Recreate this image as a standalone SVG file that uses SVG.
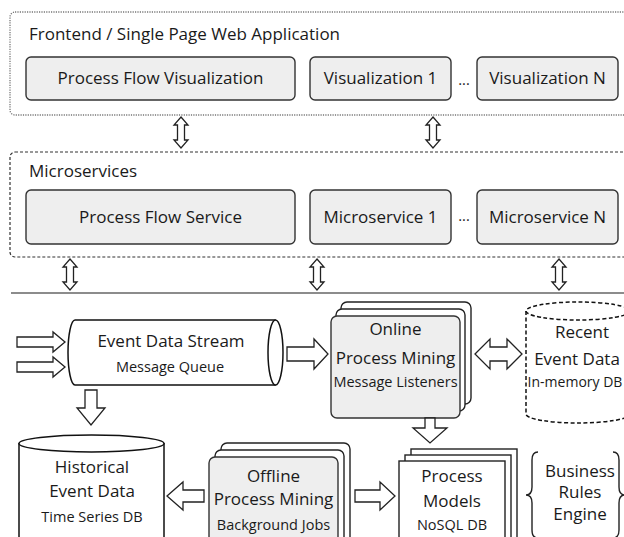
<svg xmlns="http://www.w3.org/2000/svg" width="624" height="537" viewBox="0 0 624 537">
<defs>
<style>
text{font-family:"Open Sans",Lato,"Liberation Sans",sans-serif;fill:#1a1a1a;}
.t{font-size:17px;}
.c{font-size:17px;text-anchor:middle;}
.s{font-size:14.5px;text-anchor:middle;}
.box{fill:#eeeeee;stroke:#333;stroke-width:1.4;}
.wbox{fill:#ffffff;stroke:#222;stroke-width:1.4;}
.arr{fill:#ffffff;stroke:#222;stroke-width:1.3;stroke-linejoin:miter;}
.frame1{fill:none;stroke:#777;stroke-width:1.3;stroke-dasharray:1.2 1.2;}
.frame2{fill:none;stroke:#333;stroke-width:1.2;stroke-dasharray:3 2;}
.cyl{fill:#ffffff;stroke:#111;stroke-width:1.5;}
.dcyl{fill:#ffffff;stroke:#111;stroke-width:1.5;stroke-dasharray:4 2.5;}
</style>
<polygon id="vdbl" points="0,0 7,8 3.5,8 3.5,23 7,23 0,31 -7,23 -3.5,23 -3.5,8 -7,8"/>
</defs>

<g id="frontend">
<rect class="frame1" x="10" y="12" width="630" height="103" rx="5"/>
<text class="t" x="29" y="40">Frontend / Single Page Web Application</text>
</g>
<g id="process-flow-visualization">
<rect class="box" x="26" y="57" width="269" height="43" rx="5"/>
<text class="c" x="160.5" y="84">Process Flow Visualization</text>
</g>
<g id="visualization-1">
<rect class="box" x="310" y="57" width="141" height="43" rx="5"/>
<text class="c" x="380.5" y="84">Visualization 1</text>
</g>
<text class="s" x="464" y="85">...</text>
<g id="visualization-n">
<rect class="box" x="477" y="57" width="141" height="43" rx="5"/>
<text class="c" x="547.5" y="84">Visualization N</text>
</g>

<g id="microservices">
<rect class="frame2" x="10" y="152" width="630" height="105" rx="5"/>
<text class="t" x="29" y="177">Microservices</text>
</g>
<g id="process-flow-service">
<rect class="box" x="26" y="190" width="269" height="54" rx="5"/>
<text class="c" x="160.5" y="223">Process Flow Service</text>
</g>
<g id="microservice-1">
<rect class="box" x="310" y="190" width="141" height="54" rx="5"/>
<text class="c" x="380.5" y="223">Microservice 1</text>
</g>
<text class="s" x="464" y="221">...</text>
<g id="microservice-n">
<rect class="box" x="477" y="190" width="141" height="54" rx="5"/>
<text class="c" x="547.5" y="223">Microservice N</text>
</g>

<line x1="11" y1="293" x2="624" y2="293" stroke="#666" stroke-width="1.5"/>

<g id="event-data-stream">
<path class="cyl" d="M75,320 L275,320 L275,385 L75,385 A7,32.5 0 0 1 75,320 Z"/>
<ellipse class="cyl" cx="275.5" cy="352.5" rx="7.5" ry="32.5"/>
<text class="c" x="171" y="347">Event Data Stream</text>
<text class="s" x="170" y="372">Message Queue</text>
</g>

<g id="online-process-mining">
<rect class="wbox" x="341" y="302" width="130" height="102" rx="6"/>
<rect class="wbox" x="336" y="309" width="129" height="102" rx="6"/>
<rect class="box" x="331" y="316" width="129" height="102" rx="6"/>
<text class="c" x="395.5" y="335">Online</text>
<text class="c" x="395.5" y="364">Process Mining</text>
<text class="s" x="395.5" y="387">Message Listeners</text>
</g>

<g id="recent-event-data">
<path class="dcyl" d="M526,311 L526,414 A52,9 0 0 0 630,414 L630,311"/>
<ellipse class="dcyl" cx="578" cy="311" rx="52" ry="9"/>
<text class="c" x="582" y="338">Recent</text>
<text class="c" x="577" y="365">Event Data</text>
<text class="s" x="575" y="387" style="font-size:14px">In-memory DB</text>
</g>

<g id="historical-event-data">
<path class="cyl" d="M19,443 L19,545 L164,545 L164,443"/>
<ellipse class="cyl" cx="91.5" cy="443.5" rx="72.5" ry="8.5"/>
<text class="c" x="92" y="473">Historical</text>
<text class="c" x="92" y="497">Event Data</text>
<text class="s" x="92" y="522">Time Series DB</text>
</g>

<g id="offline-process-mining">
<rect class="wbox" x="221" y="443" width="129" height="110" rx="6"/>
<rect class="wbox" x="215" y="450" width="129" height="110" rx="6"/>
<rect class="box" x="209" y="457" width="129" height="110" rx="6"/>
<text class="c" x="273.5" y="482">Offline</text>
<text class="c" x="273.5" y="505">Process Mining</text>
<text class="s" x="273.5" y="530">Background Jobs</text>
</g>

<g id="process-models">
<rect class="wbox" x="411" y="449" width="106" height="100"/>
<rect class="wbox" x="405" y="455" width="106" height="100"/>
<rect class="wbox" x="399" y="461" width="106" height="100"/>
<text class="c" x="452" y="482">Process</text>
<text class="c" x="452" y="507">Models</text>
<text class="s" x="452" y="530">NoSQL DB</text>
</g>

<g id="business-rules-engine">
<path d="M538,452 Q532,452 532,460 L532,487 Q532,495 526,495 Q532,495 532,503 L532,530 Q532,538 538,538" fill="none" stroke="#222" stroke-width="1.4"/>
<path d="M613,452 Q619,452 619,460 L619,487 Q619,495 625,495 Q619,495 619,503 L619,530 Q619,538 613,538" fill="none" stroke="#222" stroke-width="1.4"/>
<text class="c" x="580" y="477">Business</text>
<text class="c" x="580" y="498">Rules</text>
<text class="c" x="580" y="520">Engine</text>
</g>

<g id="connectors">
<use href="#vdbl" class="arr" x="181" y="117"/>
<use href="#vdbl" class="arr" x="433" y="117"/>
<use href="#vdbl" class="arr" x="70" y="259"/>
<use href="#vdbl" class="arr" x="317" y="259"/>
<use href="#vdbl" class="arr" x="559" y="259"/>
<polygon class="arr" points="17,337 53,337 53,332 65,342 53,352 53,347 17,347"/>
<polygon class="arr" points="17,362 53,362 53,357 65,367 53,377 53,372 17,372"/>
<polygon class="arr" points="287,347 314,347 314,339 328,354 314,369 314,361 287,361"/>
<polygon class="arr" points="475,354 490,339 490,347 507,347 507,339 522,354 507,369 507,361 490,361 490,369"/>
<polygon class="arr" points="85,390 97,390 97,408 105,408 91,425 77,408 85,408"/>
<polygon class="arr" points="425,418 435,418 435,428 447,428 430,443 413,428 425,428"/>
<polygon class="arr" points="204,490 183,490 183,482 167,496 183,510 183,502 204,502"/>
<polygon class="arr" points="355,490 380,490 380,482 395,496 380,510 380,502 355,502"/>
</g>
</svg>
